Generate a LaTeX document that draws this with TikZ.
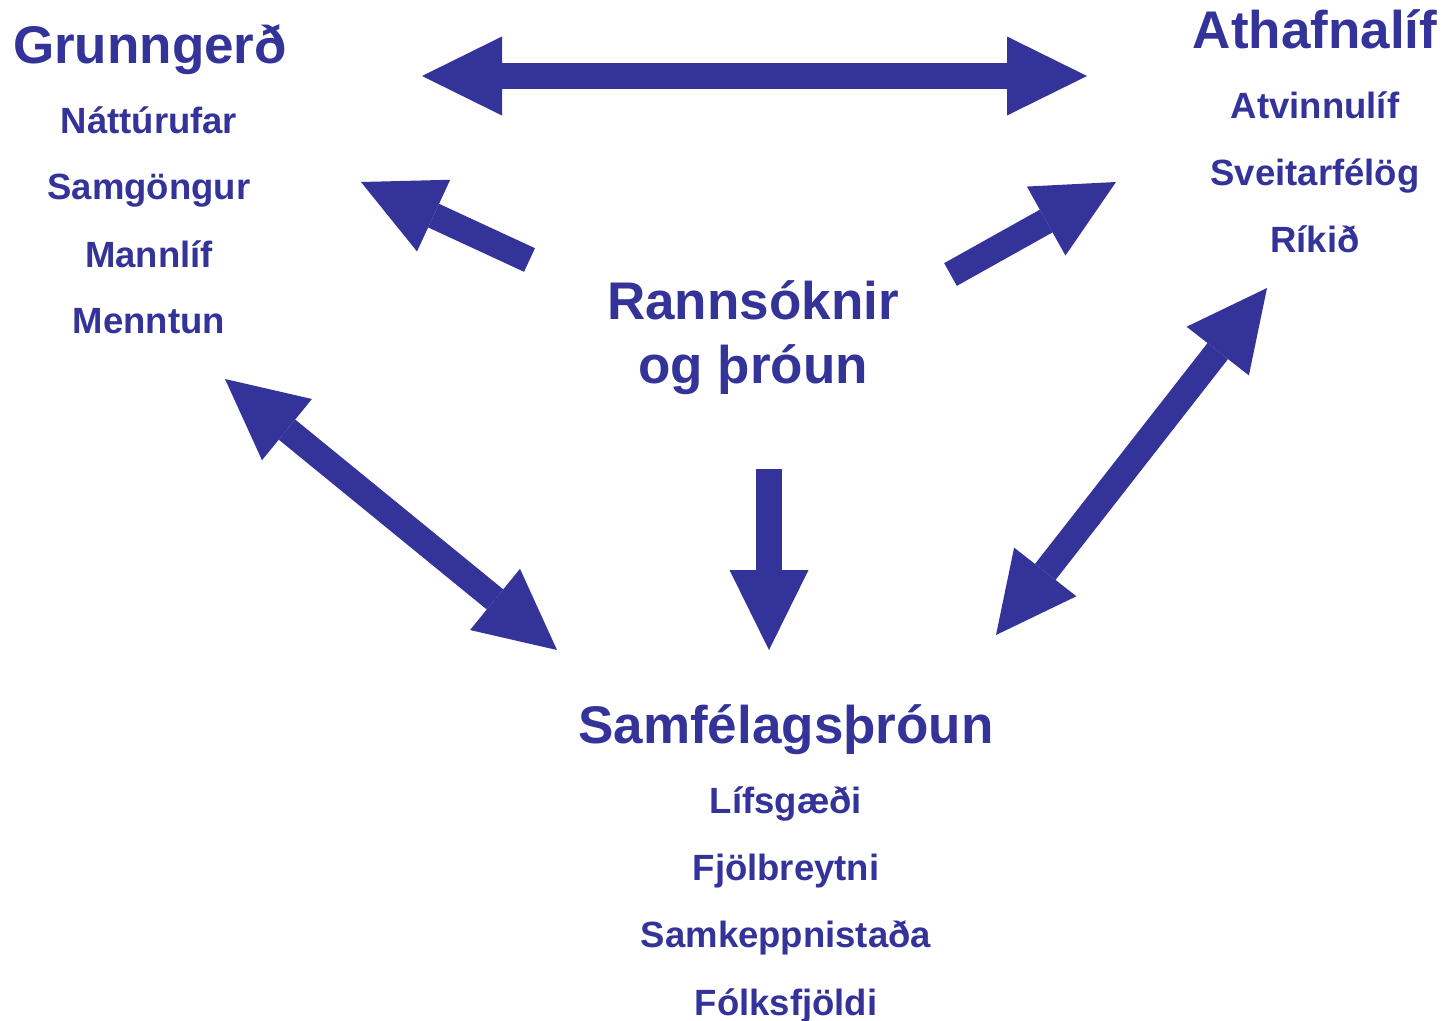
\documentclass[tikz,border=0pt]{standalone}
\usepackage{fontspec}
\setmainfont{Liberation Sans}
\usetikzlibrary{arrows.meta}
\definecolor{navy}{RGB}{51,51,153}
\tikzset{
  head/.style={font=\fontsize{53}{60}\selectfont\bfseries, text=navy, anchor=base, inner sep=0pt},
  item/.style={font=\fontsize{36.5}{42}\selectfont\bfseries, text=navy, anchor=base, inner sep=0pt},
  tipfat/.tip={Triangle[length=80pt,width=79pt,line width=0pt]},
  fat/.style={draw=navy, line width=26pt, -tipfat, navy},
  fatboth/.style={draw=navy, line width=26pt, tipfat-tipfat, navy}
}
\begin{document}
\begin{tikzpicture}[x=1pt,y=-1pt]
\useasboundingbox[fill=white] (0,0) rectangle (1445,1020);
% left block
\node[head] (grunn) at (150,63) {Grunngerð};
\node[item] (g1) at (149,133) {Náttúrufar};
\node[item] (g2) at (149,199) {Samgöngur};
\node[item] (g3) at (149,267) {Mannlíf};
\node[item] (g4) at (149,333) {Menntun};
% right block
\node[head] (atha) at (1315,48) {Athafnalíf};
\node[item] (a1) at (1315,118) {Atvinnulíf};
\node[item] (a2) at (1315,185) {Sveitarfélög};
\node[item] (a3) at (1315,252) {Ríkið};
% center
\node[head] (rann1) at (753,319) {Rannsóknir};
\node[head] (rann2) at (753,383) {og þróun};
% bottom
\node[head] (samf) at (786,743) {Samfélagsþróun};
\node[item] (s1) at (786,813) {Lífsgæði};
\node[item] (s2) at (786,880) {Fjölbreytni};
\node[item] (s3) at (786,947) {Samkeppnistaða};
\node[item] (s4) at (786,1015) {Fólksfjöldi};
% arrow end points
\coordinate (topL) at (422,76);
\coordinate (topR) at (1087,76);
\coordinate (ulTail) at (529.5,260);
\coordinate (ulTip) at (361,182);
\coordinate (urTail) at (950.5,274.5);
\coordinate (urTip) at (1116,182);
\coordinate (dnTail) at (769,469);
\coordinate (dnTip) at (769,650);
\coordinate (ldA) at (225,379);
\coordinate (ldB) at (557,650);
\coordinate (rdA) at (1267,288);
\coordinate (rdB) at (996,635);
% arrows
\draw[fatboth] (topL) -- (topR);
\draw[fat] (ulTail) -- (ulTip);
\draw[fat] (urTail) -- (urTip);
\draw[fat] (dnTail) -- (dnTip);
\draw[fatboth] (ldA) -- (ldB);
\draw[fatboth] (rdA) -- (rdB);
\end{tikzpicture}
\end{document}
